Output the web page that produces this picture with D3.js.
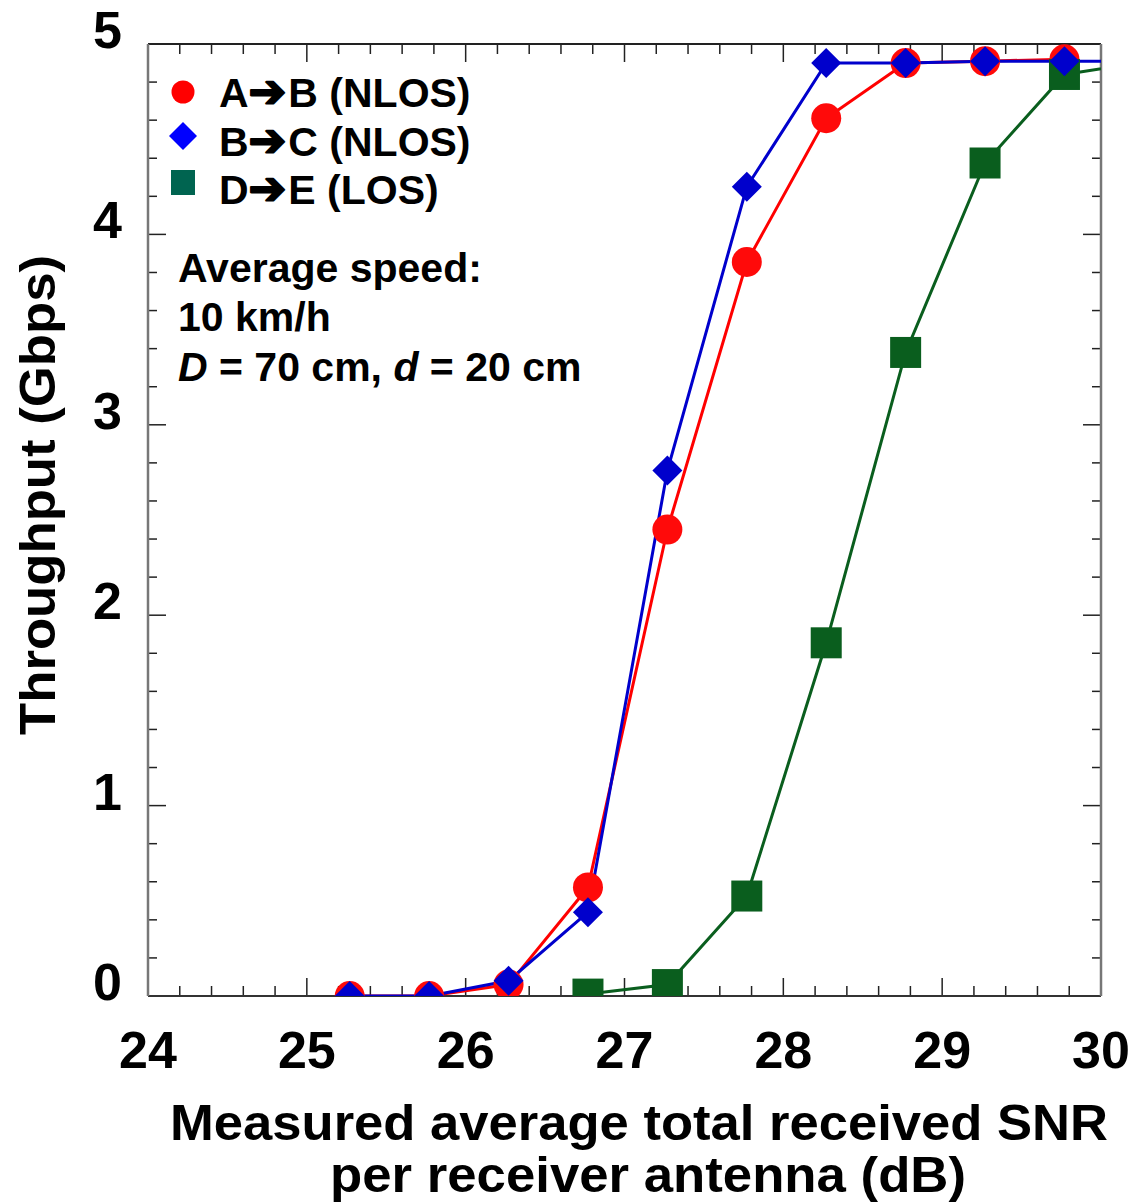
<!DOCTYPE html>
<html><head><meta charset="utf-8">
<script src="https://cdn.jsdelivr.net/npm/d3@7"></script>
<style>html,body{margin:0;padding:0;background:#fff}svg{display:block}text{font-family:"Liberation Sans",Arial,sans-serif;font-weight:bold}</style>
</head><body>
<script>
const snrAB = [25.27,25.77,26.27,26.77,27.27,27.77,28.27,28.77,29.27,29.77];
const thrAB = [0,0,0.06,0.57,2.45,3.855,4.61,4.90,4.91,4.92];
const snrBC = [25.27,25.77,26.27,26.77,27.27,27.77,28.27,28.77,29.27,29.77,30.27];
const thrBC = [0,0,0.08,0.44,2.76,4.25,4.90,4.90,4.91,4.91,4.91];
const snrDE = [26.77,27.27,27.77,28.27,28.77,29.27,29.77,30.27];
const thrDE = [0.01,0.06,0.525,1.855,3.38,4.375,4.84,4.905];
const xTicks = [24,25,26,27,28,29,30];
const yTicks = [0,1,2,3,4,5];
const legendLabels = ["A\u2794B (NLOS)","B\u2794C (NLOS)","D\u2794E (LOS)"];
const noteLines = ["Average speed:","10 km/h"];

const W=1130,H=1202;
const svg=d3.select("body").append("svg").attr("width",W).attr("height",H);
const x=d3.scaleLinear().domain([24,30]).range([148,1101]);
const y=d3.scaleLinear().domain([0,5]).range([996,44]);

svg.append("defs").append("clipPath").attr("id","clip").append("rect")
  .attr("x",148).attr("y",44).attr("width",953).attr("height",952);

// ticks
const xMinor=d3.range(24,30.001,0.2), yMinor=d3.range(0,5.001,0.2);
const tg=svg.append("g").attr("stroke","#222").attr("stroke-width",1.5);
xMinor.forEach(v=>{
  const major=Math.abs(v-Math.round(v))<1e-6;
  const L=major?18:10;
  tg.append("line").attr("x1",x(v)).attr("x2",x(v)).attr("y1",996).attr("y2",996-L);
  tg.append("line").attr("x1",x(v)).attr("x2",x(v)).attr("y1",44).attr("y2",44+L);
});
yMinor.forEach(v=>{
  const major=Math.abs(v-Math.round(v))<1e-6;
  const L=major?18:9;
  tg.append("line").attr("y1",y(v)).attr("y2",y(v)).attr("x1",148).attr("x2",148+L);
  tg.append("line").attr("y1",y(v)).attr("y2",y(v)).attr("x1",1101).attr("x2",1101-L);
});
// frame
svg.append("line").attr("x1",148).attr("x2",1101).attr("y1",44).attr("y2",44).attr("stroke","#222").attr("stroke-width",2);
svg.append("line").attr("x1",148).attr("x2",1101).attr("y1",996).attr("y2",996).attr("stroke","#333").attr("stroke-width",2);
svg.append("line").attr("x1",148).attr("x2",148).attr("y1",44).attr("y2",996).attr("stroke","#777").attr("stroke-width",2.5);
svg.append("line").attr("x1",1101).attr("x2",1101).attr("y1",44).attr("y2",996).attr("stroke","#777").attr("stroke-width",2.5);

// tick labels
svg.append("g").selectAll("text").data(xTicks).join("text")
  .attr("x",d=>x(d)).attr("y",1068).attr("text-anchor","middle")
  .attr("font-size",52).text(d=>d);
svg.append("g").selectAll("text").data(yTicks).join("text")
  .attr("x",122).attr("y",d=>y(d)+4).attr("text-anchor","end")
  .attr("font-size",52).text(d=>d);

// axis labels
svg.append("text").attr("x",639).attr("y",1140).attr("text-anchor","middle")
  .attr("font-size",50).attr("textLength",938).attr("lengthAdjust","spacingAndGlyphs")
  .text("Measured average total received SNR");
svg.append("text").attr("x",648).attr("y",1192).attr("text-anchor","middle")
  .attr("font-size",50).attr("textLength",636).attr("lengthAdjust","spacingAndGlyphs")
  .text("per receiver antenna (dB)");
svg.append("text").attr("transform","translate(55,495) rotate(-90)").attr("text-anchor","middle")
  .attr("font-size",50).attr("textLength",480).attr("lengthAdjust","spacingAndGlyphs")
  .text("Throughput (Gbps)");

// series
const plot=svg.append("g").attr("clip-path","url(#clip)");
function series(xs,ys,lineColor){
  const pts=xs.map((v,i)=>[v,ys[i]]);
  plot.append("path").datum(pts).attr("fill","none").attr("stroke",lineColor).attr("stroke-width",3)
    .attr("d",d3.line().x(d=>x(d[0])).y(d=>y(d[1])));
  return pts;
}
const ab=series(snrAB,thrAB,"#ff0000");
const de=series(snrDE,thrDE,"#0a5e1e");
const bc=series(snrBC,thrBC,"#0000cc");
plot.append("g").selectAll("circle").data(ab).join("circle")
  .attr("cx",d=>x(d[0])).attr("cy",d=>y(d[1])).attr("r",15).attr("fill","#ff0a0a");
plot.append("g").selectAll("rect").data(de).join("rect")
  .attr("x",d=>x(d[0])-15.5).attr("y",d=>y(d[1])-15.5).attr("width",31).attr("height",31).attr("fill","#0a5e1e");
plot.append("g").selectAll("path").data(bc).join("path")
  .attr("transform",d=>`translate(${x(d[0])},${y(d[1])})`)
  .attr("d","M0,-15L15,0L0,15L-15,0Z").attr("fill","#0000cc");

// legend
const lg=svg.append("g");
lg.append("circle").attr("cx",183).attr("cy",92).attr("r",11.5).attr("fill","#ff0000");
lg.append("path").attr("transform","translate(183,136)").attr("d","M0,-14L14,0L0,14L-14,0Z").attr("fill","#0000ff");
lg.append("rect").attr("x",171).attr("y",170).attr("width",24).attr("height",25).attr("fill","#006450");
const ly=[107,156,204];
legendLabels.forEach((t,i)=>{
  const parts=t.split("\u2794");
  const tx=lg.append("text").attr("x",219).attr("y",ly[i]).attr("font-size",41);
  tx.append("tspan").text(parts[0]);
  tx.append("tspan").attr("font-family","DejaVu Sans").attr("font-size",45)
    .attr("stroke","#000").attr("stroke-width",2.2).attr("stroke-linejoin","round").text("\u2794");
  tx.append("tspan").attr("dx",2).text(parts[1]);
});

// note
svg.append("text").attr("x",178).attr("y",282).attr("font-size",41).text(noteLines[0]);
svg.append("text").attr("x",178).attr("y",331).attr("font-size",41).text(noteLines[1]);
const n3=svg.append("text").attr("x",178).attr("y",381).attr("font-size",41);
n3.append("tspan").attr("font-style","italic").text("D");
n3.append("tspan").text(" = 70 cm, ");
n3.append("tspan").attr("font-style","italic").text("d");
n3.append("tspan").text(" = 20 cm");
</script>
</body></html>
